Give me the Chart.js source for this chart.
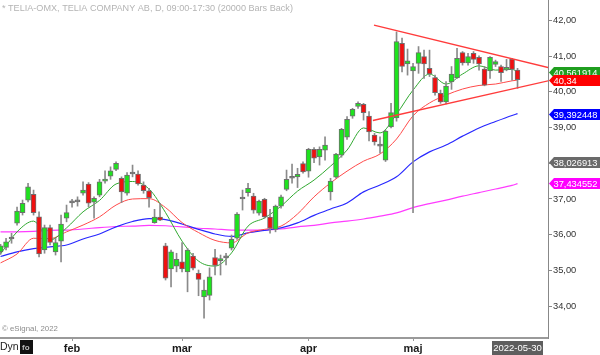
<!DOCTYPE html>
<html><head><meta charset="utf-8">
<script src="https://cdn.jsdelivr.net/npm/chart.js@4/dist/chart.umd.min.js"></script>
<style>html,body{margin:0;padding:0;background:#fff;overflow:hidden}</style>
</head><body><canvas id="c" width="600" height="355"></canvas>
<script>
// ---- data ----
const firstIdx = -13; // Jan 13 (index 0 = Feb 1 trading day)
const opens  = [35.52,35.64,35.88,36.32,36.62,36.97,37.13,36.50,35.57,36.20,35.52,35.82,36.46,
  36.89,36.92,37.16,37.42,36.91,37.11,37.50,37.64,37.83,37.58,37.16,37.70,37.70,37.39,37.23,36.34,36.49,35.69,35.04,35.12,
  35.24,34.96,35.40,34.92,34.26,34.30,35.36,35.27,35.35,35.62,35.90,37.00,37.18,37.08,36.60,36.99,36.49,36.15,36.80,37.27,37.58,37.62,37.99,
  37.78,38.39,38.18,38.37,37.20,37.61,38.23,38.73,39.32,39.59,39.65,39.32,38.79,38.48,38.09,39.02,39.27,41.36,40.78,
  40.59,40.80,40.99,40.66,40.40,39.96,39.72,40.28,40.39,41.10,40.81,41.08,40.97,40.64,40.59,40.77,40.71,40.63,40.91,40.61];
const highs  = [35.73,35.90,36.04,36.77,36.97,37.44,37.25,36.64,36.27,36.27,35.90,36.55,36.83,
  36.99,37.06,37.48,37.46,37.06,37.55,37.79,37.90,38.04,37.62,37.74,37.95,37.79,37.48,37.30,36.71,36.88,35.76,35.57,35.48,
  35.78,35.62,35.48,35.01,34.73,35.07,35.59,35.43,35.48,35.99,36.62,37.25,37.44,37.16,36.97,37.02,36.71,36.83,37.11,37.81,37.98,37.86,38.04,
  38.42,38.44,38.46,38.74,37.58,38.28,38.98,39.31,39.54,39.72,39.68,39.45,38.84,38.74,38.93,39.68,41.68,41.51,41.20,
  40.80,41.27,41.17,41.17,40.47,40.05,40.29,40.71,41.22,41.13,41.08,41.13,41.01,40.71,40.99,40.89,40.75,40.91,40.94,40.66];
const lows   = [35.45,35.57,35.76,36.27,36.55,36.92,36.55,35.38,35.48,35.71,35.43,35.24,36.36,
  36.77,36.80,37.11,36.78,36.46,37.06,37.44,37.55,37.79,36.90,37.11,37.62,37.39,37.16,36.77,36.32,36.39,34.73,34.54,34.96,
  34.96,34.40,35.01,34.29,33.66,34.17,34.87,34.87,35.15,35.57,35.87,36.69,37.08,36.60,36.55,36.46,36.04,36.08,36.74,37.23,37.44,37.32,37.72,
  37.61,38.02,37.95,38.09,36.97,37.58,38.17,38.67,39.26,39.54,39.21,38.63,38.51,38.28,38.05,38.99,39.18,40.56,40.47,
  36.62,40.52,40.38,40.43,39.91,39.68,39.66,40.07,40.38,40.75,40.75,40.80,40.61,40.17,40.38,40.71,40.29,40.59,40.33,40.10];
const closes = [35.69,35.80,35.88,36.66,36.88,37.34,36.62,35.46,36.20,35.78,35.78,36.30,36.62,
  36.89,36.92,37.25,36.88,37.02,37.48,37.55,37.79,38.00,37.20,37.67,37.70,37.42,37.23,37.04,36.49,36.41,34.78,35.52,35.31,
  35.04,35.57,35.06,34.75,34.45,34.82,35.14,35.33,35.35,35.87,36.58,37.00,37.30,36.69,36.94,36.50,36.18,36.80,37.06,37.55,37.58,37.69,37.76,
  38.39,38.14,38.39,38.51,37.50,38.26,38.95,39.23,39.51,39.68,39.42,38.88,38.60,38.48,38.90,39.42,41.41,40.71,40.87,
  40.71,41.10,40.78,40.50,39.98,39.72,40.16,40.50,40.94,40.81,40.99,40.91,40.78,40.19,40.97,40.85,40.54,40.68,40.63,40.34];

// moving-average lines read at these bar indices
const maIdx    = [-13,-10,-7,-4,-1,2,5,8,11,14,17,20,23,26,29,32,35,38,41,44,47,50,53,56,59,62,65,68,71,74,77,80,81];
const maGreen  = [35.46,36.08,36.38,35.85,36.19,36.64,36.96,37.42,37.49,37.28,36.62,35.82,35.26,35.12,35.49,36.24,36.47,36.80,37.22,37.53,37.92,38.37,38.99,38.85,39.38,40.05,40.50,40.22,40.50,40.73,40.61,40.63,40.56];
const maRed    = [35.21,35.46,35.90,35.89,36.08,36.27,36.50,36.83,37.00,37.01,36.76,36.34,36.06,35.84,35.77,36.05,36.15,36.24,36.58,37.06,37.45,37.78,38.06,38.26,38.68,39.33,39.69,39.91,40.08,40.18,40.22,40.31,40.33];
const maBlue   = [35.39,35.52,35.61,35.66,35.71,35.88,36.02,36.22,36.37,36.45,36.42,36.30,36.15,36.02,35.95,36.05,36.12,36.19,36.33,36.54,36.72,36.89,37.20,37.39,37.62,38.04,38.32,38.51,38.76,38.99,39.17,39.34,39.39];
const maPink   = [36.08,36.08,36.09,36.12,36.13,36.16,36.20,36.23,36.24,36.26,36.25,36.22,36.18,36.16,36.13,36.13,36.13,36.16,36.22,36.26,36.33,36.38,36.44,36.52,36.61,36.76,36.87,36.97,37.08,37.18,37.28,37.38,37.43];

// triangle trend lines
const upperX = [54.9, 86.6], upperY = [41.87, 40.68];
const lowerX = [54.7, 86.6], lowerY = [39.20, 40.31];

// axes
const monthIdx = [0, 20, 43, 62];
const monthLabels = ['feb', 'mar', 'apr', 'maj'];
const yTicks = [34, 35, 36, 37, 38, 39, 40, 41, 42];
const xMin = -13.1, xMax = 86.54, yMin = 33.106, yMax = 42.574;

// last-value tags
const tagValues = [40.561914, 40.34, 39.392448, 38.026913, 37.434552];
const tagTexts  = ['40,561914', '40,34', '39,392448', '38,026913', '37,434552'];
const tagColors = ['#1f9e1f', '#ff0000', '#0000ff', '#6a6a6a', '#ff00ff'];

const titleText = '* TELIA-OMX, TELIA COMPANY AB, D, 09:00-17:30 (20000 Bars Back)';
const lastDate = '2022-05-30';

// ---- build ----
const idx = opens.map((_, k) => firstIdx + k);
const GREEN = '#1ee31e', RED = '#f01010', DOJI = '#777777';
const bodyColor = c => {
  const k = c.dataIndex; const o = opens[k], cl = closes[k];
  return cl > o ? GREEN : (cl < o ? RED : DOJI);
};
const line = (data, color, w, ord, tension) => ({
  type: 'line', data, borderColor: color, borderWidth: w, pointRadius: 0,
  tension: tension, cubicInterpolationMode: tension ? 'monotone' : 'default', fill: false, order: ord
});

const datasets = [
  line(maIdx.map((x, k) => ({x, y: maPink[k]})), '#ff3cff', 1.2, 6, 0.4),
  line(maIdx.map((x, k) => ({x, y: maBlue[k]})), '#2828ff', 1.2, 5, 0.4),
  line(maIdx.map((x, k) => ({x, y: maRed[k]})), '#ff4a4a', 1, 4, 0.4),
  line(maIdx.map((x, k) => ({x, y: maGreen[k]})), '#30a830', 1, 3, 0.4),
  { type: 'bar', data: idx.map((x, k) => ({x, y: [lows[k], highs[k]]})), backgroundColor: '#8a8a8a',
    borderWidth: 0, barThickness: 1, grouped: false, order: 2 },
  { type: 'bar', data: idx.map((x, k) => ({x, y: [opens[k], closes[k]]})), backgroundColor: bodyColor,
    borderColor: '#6e6e6e', borderWidth: 1, borderSkipped: false, barThickness: 5, minBarLength: 2,
    grouped: false, order: 1 },
  line(upperX.map((x, k) => ({x, y: upperY[k]})), '#ff3b3b', 1.4, 0, 0),
  line(lowerX.map((x, k) => ({x, y: lowerY[k]})), '#ff3b3b', 1.4, 0, 0)
];

const overlay = {
  id: 'overlay',
  afterDraw(chart) {
    const ctx = chart.ctx, ys = chart.scales.y;
    ctx.save();
    // title
    ctx.font = '10px Arial';
    let w = ctx.measureText(titleText).width;
    ctx.font = (10 * 291 / w).toFixed(2) + 'px Arial';
    ctx.fillStyle = '#b4b4b4'; ctx.textBaseline = 'middle'; ctx.textAlign = 'left';
    ctx.fillText(titleText, 2, 8);
    // copyright
    ctx.font = '9px Arial'; w = ctx.measureText('© eSignal, 2022').width;
    ctx.font = (9 * 56 / w).toFixed(2) + 'px Arial';
    ctx.fillStyle = '#8c8c8c';
    ctx.fillText('© eSignal, 2022', 2, 329);
    // Dyn + icon
    ctx.font = '10.5px Arial'; ctx.fillStyle = '#222';
    ctx.fillText('Dyn', 0, 347);
    ctx.fillStyle = '#111'; ctx.fillRect(20, 340, 13, 14);
    ctx.fillStyle = '#bbb'; ctx.font = 'bold 8px Arial'; ctx.fillText('fo', 22, 348);
    // last date box
    ctx.fillStyle = '#5e5e5e'; ctx.fillRect(492, 341, 51, 14);
    ctx.fillStyle = '#fff'; ctx.font = '9.5px Arial'; ctx.textAlign = 'center';
    ctx.fillText(lastDate, 517.5, 348.5);
    // value tags
    ctx.textAlign = 'left';
    ctx.font = '10px Arial';
    w = ctx.measureText('40,561914').width;
    ctx.font = (10 * 44 / w).toFixed(2) + 'px Arial';
    tagValues.forEach((v, k) => {
      const yc = Math.round(ys.getPixelForValue(v)) + 0.5;
      ctx.fillStyle = tagColors[k];
      ctx.beginPath();
      ctx.moveTo(549, yc); ctx.lineTo(554, yc - 5.5); ctx.lineTo(600, yc - 5.5);
      ctx.lineTo(600, yc + 5.5); ctx.lineTo(554, yc + 5.5); ctx.closePath(); ctx.fill();
      ctx.fillStyle = '#fff';
      ctx.fillText(tagTexts[k], 553.5, yc + 0.5);
    });
    ctx.restore();
  }
};

new Chart(document.getElementById('c'), {
  type: 'bar',
  data: { datasets },
  options: {
    responsive: false, animation: false, devicePixelRatio: 1,
    layout: { padding: 0 },
    plugins: { legend: { display: false }, tooltip: { enabled: false } },
    scales: {
      x: {
        type: 'linear', min: xMin, max: xMax, offset: false,
        grid: { drawOnChartArea: false, tickLength: 3, color: '#999', offset: false },
        border: { display: true, color: '#9a9a9a', width: 2 },
        ticks: { autoSkip: false, maxRotation: 0, padding: 1, color: '#1a1a1a',
          font: { family: 'Arial', size: 11, weight: 'bold' },
          callback: v => { const k = monthIdx.indexOf(v); return k >= 0 ? monthLabels[k] : ''; } },
        afterBuildTicks: s => { s.ticks = monthIdx.map(v => ({ value: v })); },
        afterFit: s => { s.height = 17; s.paddingLeft = 0; s.paddingRight = 0; }
      },
      y: {
        position: 'right', min: yMin, max: yMax,
        grid: { drawOnChartArea: false, tickLength: 4, color: '#888', offset: false },
        border: { display: true, color: '#888', width: 1 },
        ticks: { padding: 1, color: '#333', font: { family: 'Arial', size: 9.3 },
          callback: v => Number(v).toFixed(2).replace('.', ',') },
        afterBuildTicks: s => { s.ticks = yTicks.map(v => ({ value: v })); },
        afterFit: s => { s.width = 52; s.paddingTop = 0; s.paddingBottom = 0; }
      }
    }
  },
  plugins: [overlay]
});
</script></body></html>
